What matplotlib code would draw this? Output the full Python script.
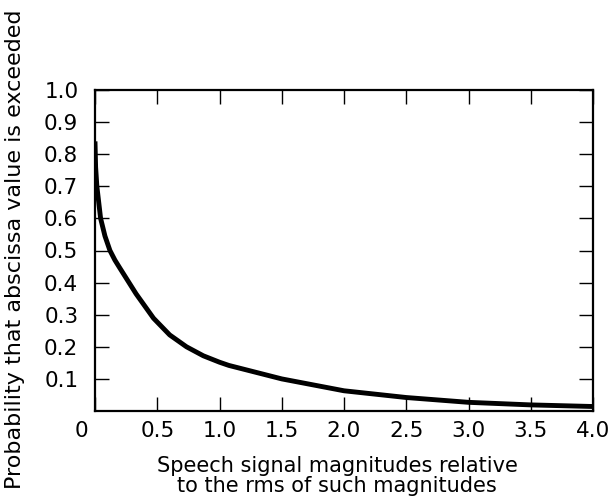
import numpy as np
import matplotlib
matplotlib.use("Agg")
import matplotlib.pyplot as plt
import matplotlib.transforms as mtransforms

plt.rcParams['font.family'] = ['DejaVu Sans']

# Кривая
x_vals = [0.0, 0.005, 0.015, 0.045, 0.08, 0.12, 0.16, 0.2, 0.33, 0.47, 0.6,
          0.735, 0.87, 1.0, 1.075, 1.5, 2.0, 2.5, 3.0, 3.5, 4.0]
y_vals = [0.84, 0.76, 0.7, 0.6, 0.545, 0.5, 0.47, 0.445, 0.365, 0.289, 0.237,
          0.2, 0.172, 0.152, 0.142, 0.1, 0.063, 0.042, 0.027, 0.019, 0.014]

x_ticks = [0.0, 0.5, 1.0, 1.5, 2.0, 2.5, 3.0, 3.5, 4.0]
x_ticklabels = ['0', '0.5', '1.0', '1.5', '2.0', '2.5', '3.0', '3.5', '4.0']
y_ticks = [0.1, 0.2, 0.3, 0.4, 0.5, 0.6, 0.7, 0.8, 0.9, 1.0]
y_ticklabels = ['0.1', '0.2', '0.3', '0.4', '0.5', '0.6', '0.7', '0.8', '0.9', '1.0']

fig = plt.figure(figsize=(6.16, 4.99), dpi=100)
ax = fig.add_axes([95 / 616, 1 - 411 / 499, 498 / 616, 321 / 499])

ax.plot(x_vals, y_vals, color='black', linewidth=3.5,
        solid_joinstyle='round', solid_capstyle='butt')

ax.set_xlim(0, 4.0)
ax.set_ylim(0, 1.0)
ax.set_xticks(x_ticks)
ax.set_xticklabels(x_ticklabels)
ax.set_yticks(y_ticks)
ax.set_yticklabels(y_ticklabels)

ax.tick_params(axis='both', direction='in', length=10, width=1,
               top=True, right=True, labelsize=15.5, colors='black')
ax.tick_params(axis='x', pad=7)
ax.tick_params(axis='y', pad=12)
for s in ax.spines.values():
    s.set_linewidth(1.6)

# сдвиг подписи "0" влево
lbl0 = ax.get_xticklabels()[0]
lbl0.set_transform(lbl0.get_transform() +
                   mtransforms.ScaledTranslation(-14 / 100, 0, fig.dpi_scale_trans))

fig.text(337 / 616, 1 - 476 / 499,
         'Speech signal magnitudes relative\nto the rms of such magnitudes',
         ha='center', va='center', fontsize=15, linespacing=1.05)
fig.text(15 / 616, 0.5, 'Probability that abscissa value is exceeded',
         rotation=90, ha='center', va='center', fontsize=16)

fig.savefig('out.png', dpi=100)
